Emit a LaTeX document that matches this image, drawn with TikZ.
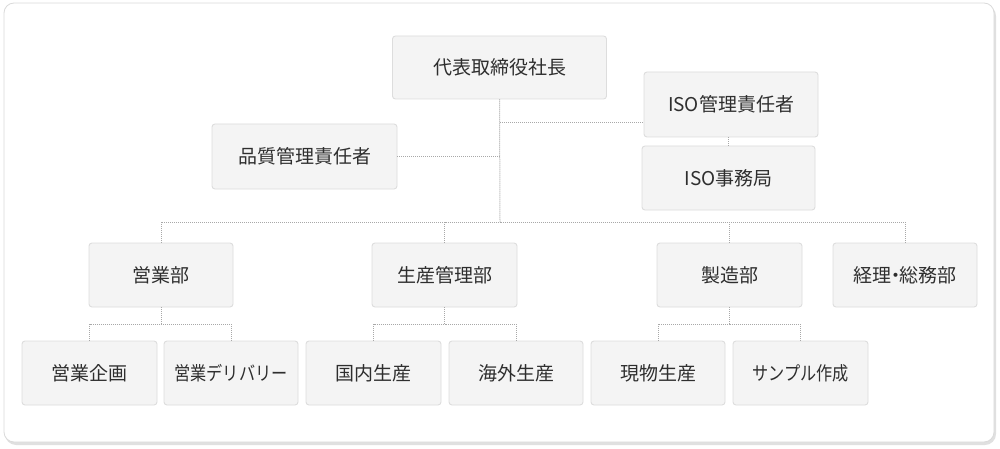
\documentclass[tikz,border=0pt]{standalone}
\usepackage{fontspec}
\newfontfamily\jp{Noto Sans CJK JP}
\newfontfamily\jpnarrow[FakeStretch=0.85]{Noto Sans CJK JP}
\definecolor{boxfill}{HTML}{F4F4F4}
\definecolor{boxline}{HTML}{DDDDDD}
\definecolor{conncol}{HTML}{A8A8A8}
\definecolor{txt}{HTML}{2E2E2E}
\definecolor{panelline}{HTML}{DADADA}
\begin{document}
\begin{tikzpicture}[x=1pt,y=-1pt,
  box/.style={draw=boxline, fill=boxfill, line width=0.9pt, rounded corners=3pt,
    text=txt, font=\jp\fontsize{19}{22}\selectfont, inner sep=0pt,
    minimum height=64pt},
  conn/.style={draw=conncol, line width=1pt, dash pattern=on 1pt off 1pt}]
\useasboundingbox (0,0) rectangle (1000,449);
% panel
\fill[black!12, rounded corners=11pt] (5,5) rectangle (996,445);
\draw[panelline, fill=white, line width=0.8pt, rounded corners=10pt] (4,3) rectangle (994,442);
% nodes
\node[box, minimum width=214pt, minimum height=63pt] (ceo) at (499.5,67.5) {代表取締役社長};
\node[box, minimum width=174pt, minimum height=65pt] (iso) at (731,104.5) {ISO管理責任者};
\node[box, minimum width=173pt] (isooff) at (728.5,178) {ISO事務局};
\node[box, minimum width=185pt, minimum height=65pt] (qm) at (304.5,156.5) {品質管理責任者};
\node[box, minimum width=144pt] (sales) at (161,275) {営業部};
\node[box, minimum width=145pt] (pm) at (444.5,275) {生産管理部};
\node[box, minimum width=145pt] (mfg) at (729.5,275) {製造部};
\node[box, minimum width=144pt] (acc) at (905,275) {経理\kern-0.3em・\kern-0.3em 総務部};
\node[box, minimum width=135pt] (s1) at (89.5,373) {営業企画};
\node[box, minimum width=134pt, font=\jpnarrow\fontsize{19}{22}\selectfont] (s2) at (231,373) {営業デリバリー};
\node[box, minimum width=135pt] (p1) at (373.5,373) {国内生産};
\node[box, minimum width=134pt] (p2) at (516,373) {海外生産};
\node[box, minimum width=134pt] (m1) at (658,373) {現物生産};
\node[box, minimum width=135pt, font=\jpnarrow\fontsize{19}{22}\selectfont] (m2) at (800.5,373) {サンプル作成};
% junctions
\coordinate (bus) at (500,222);
\coordinate (isoj) at (500,123);
\coordinate (sb) at (161,324);
\coordinate (pb) at (444.5,324);
\coordinate (mb) at (729.5,324);
% connectors
\draw[conn] (ceo.south) -- (bus);
\draw[conn] (isoj) -- (isoj -| iso.west);
\draw[conn] (qm.east) -- (qm.east -| bus);
\draw[conn] (iso.south -| isooff.north) -- (isooff.north);
\draw[conn] (sales.north) |- (bus);
\draw[conn] (pm.north) |- (bus);
\draw[conn] (mfg.north) |- (bus);
\draw[conn] (acc.north) |- (bus);
\draw[conn] (sales.south) -- (sb);
\draw[conn] (s1.north) |- (sb);
\draw[conn] (s2.north) |- (sb);
\draw[conn] (pm.south) -- (pb);
\draw[conn] (p1.north) |- (pb);
\draw[conn] (p2.north) |- (pb);
\draw[conn] (mfg.south) -- (mb);
\draw[conn] (m1.north) |- (mb);
\draw[conn] (m2.north) |- (mb);
\end{tikzpicture}
\end{document}
